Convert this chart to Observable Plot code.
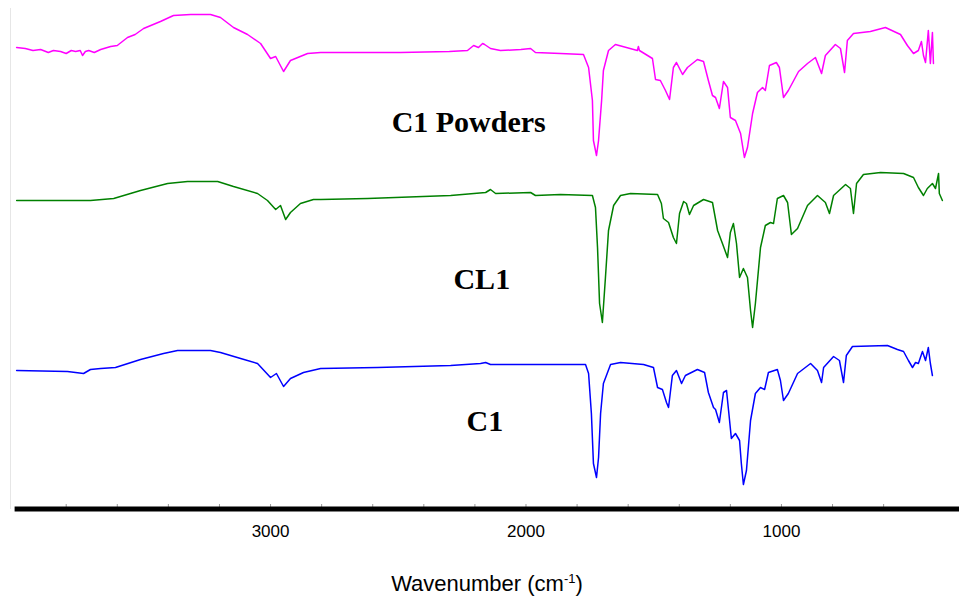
<!DOCTYPE html>
<html><head><meta charset="utf-8">
<script src="https://cdn.jsdelivr.net/npm/d3@7"></script>
<script src="https://cdn.jsdelivr.net/npm/@observablehq/plot@0.6"></script>
<style>
body{margin:0;background:#fff;}
#wrap{position:relative;width:959px;height:607px;overflow:hidden;}
#xlabel{position:absolute;left:0;top:573px;width:974px;text-align:center;font-family:"Liberation Sans",Arial,sans-serif;font-size:22px;line-height:22px;color:#000;}
#xlabel sup{font-size:13px;vertical-align:8px;line-height:0;}
</style></head><body>
<div id="wrap"><div id="chart"></div><div id="xlabel">Wavenumber (cm<sup>-1</sup>)</div></div>
<script>
// [wavenumber (cm-1), transmittance (a.u., offset)]
const c1Powders = [[3994,461],[3960,460],[3930,458],[3900,459],[3870,456],[3850,458],[3822,457],[3800,455],[3780,458],[3763,457],[3745,458],[3736,453],[3725,457],[3712,458],[3690,456],[3665,459],[3626,462],[3600,463],[3560,471],[3530,474],[3497,480],[3431,487],[3380,493],[3313,494],[3235,494],[3196,491],[3145,481],[3090,474],[3039,465],[3000,450],[2980,452],[2949,437],[2922,448],[2855,455],[2804,456],[2491,456],[2300,457],[2229,458],[2205,463],[2186,461],[2170,465],[2162,464],[2139,460],[2100,458],[2020,459],[1982,460],[1963,456],[1865,455],[1775,454],[1755,441],[1740,408],[1736,368],[1724,353],[1716,368],[1704,408],[1697,438],[1677,458],[1650,464],[1564,458],[1560,462],[1556,458],[1505,450],[1493,429],[1474,428],[1454,418],[1438,409],[1423,441],[1411,446],[1387,434],[1368,441],[1329,449],[1305,447],[1286,428],[1270,413],[1258,411],[1243,400],[1227,427],[1211,421],[1200,391],[1180,388],[1160,375],[1145,351],[1133,361],[1113,395],[1094,416],[1074,421],[1063,418],[1047,443],[1020,446],[1008,441],[992,411],[973,418],[933,437],[898,445],[867,451],[843,435],[828,453],[789,464],[769,460],[753,436],[742,468],[718,475],[652,477],[593,481],[534,474],[507,463],[483,455],[464,458],[452,467],[444,453],[436,446],[425,478],[417,445],[409,476],[405,445]];
const cl1 = [[3994,308],[3822,308],[3705,308],[3614,310],[3509,318],[3403,325],[3325,327],[3207,327],[3145,322],[3051,315],[3012,308],[2980,299],[2961,303],[2941,289],[2922,296],[2883,305],[2832,309],[2804,309],[2620,310],[2295,313],[2158,316],[2139,319],[2119,315],[1982,316],[1963,313],[1865,314],[1740,313],[1728,301],[1720,261],[1712,205],[1701,186],[1689,231],[1677,278],[1657,303],[1630,313],[1591,315],[1485,314],[1470,305],[1462,290],[1442,286],[1423,271],[1411,265],[1399,295],[1383,307],[1372,305],[1360,294],[1344,303],[1305,309],[1270,306],[1250,278],[1231,265],[1211,251],[1200,276],[1188,285],[1176,265],[1164,231],[1149,240],[1133,231],[1121,198],[1113,181],[1102,205],[1082,261],[1063,283],[1043,286],[1031,285],[1016,310],[992,313],[976,306],[961,274],[937,280],[898,303],[859,313],[828,306],[812,295],[796,313],[749,324],[730,320],[718,295],[706,325],[679,334],[612,336],[522,335],[483,331],[464,321],[444,313],[429,320],[409,325],[397,320],[385,335],[382,315],[370,308]];
const c1 = [[3994,138],[3795,137],[3732,135],[3705,139],[3665,140],[3607,141],[3509,149],[3419,155],[3364,158],[3235,158],[3196,156],[3117,150],[3051,145],[3000,131],[2977,135],[2949,122],[2922,130],[2871,136],[2804,140],[2581,141],[2295,143],[2178,145],[2158,146],[2139,144],[2021,144],[1767,144],[1755,135],[1744,95],[1736,45],[1724,31],[1716,51],[1708,95],[1697,125],[1669,144],[1630,146],[1540,144],[1501,141],[1485,121],[1466,119],[1450,106],[1442,101],[1427,133],[1411,138],[1391,125],[1376,133],[1329,139],[1301,136],[1286,116],[1266,101],[1258,99],[1243,86],[1227,116],[1215,118],[1207,98],[1196,70],[1180,75],[1164,68],[1157,45],[1149,24],[1137,38],[1121,88],[1102,115],[1082,121],[1066,119],[1051,136],[1016,139],[1004,128],[992,108],[973,115],[937,135],[886,145],[859,138],[843,126],[835,141],[796,152],[773,148],[757,126],[746,153],[722,162],[585,163],[546,159],[522,157],[503,148],[487,141],[475,146],[464,145],[448,157],[436,148],[425,161],[417,145],[409,133]];

const seriesNames = ["C1 Powders", "CL1", "C1"];
const seriesColors = ["#ff00ff", "#008000", "#0000ff"];
const labelWavenumber = [2526, 2284, 2233];
const labelValue = [377, 220, 78];
const majorTicks = [3000, 2000, 1000];
const minorTicks = [3800, 3600, 3400, 3200, 3000, 2800, 2600, 2400, 2200, 2000, 1800, 1600, 1400, 1200, 1000, 800, 600];
const axisStart = 4000;

const rows = [];
[c1Powders, cl1, c1].forEach((arr, i) => arr.forEach(([w, v]) => rows.push({series: seriesNames[i], w, v})));
const labels = seriesNames.map((name, i) => ({name, w: labelWavenumber[i], v: labelValue[i]}));

const chart = Plot.plot({
  width: 959, height: 548,
  marginLeft: 10, marginRight: 0, marginTop: 8, marginBottom: 40,
  x: {domain: [4018, 303]},
  y: {domain: [0, 500], axis: null},
  color: {domain: seriesNames, range: seriesColors},
  style: {background: "white", overflow: "visible", fontFamily: "'Liberation Sans', Arial, sans-serif"},
  marks: [
    Plot.frame({anchor: "left", stroke: "#e6e6e6"}),
    Plot.axisX({ticks: minorTicks, tickSize: -4, tickFormat: () => "", stroke: "#9a9a9a", anchor: "bottom", label: null}),
    Plot.ruleY([0], {x1: axisStart, x2: 303, stroke: "black", strokeWidth: 5, dy: 0.5}),
    Plot.axisX({ticks: majorTicks, tickSize: 0, tickPadding: 16, fontSize: 17, tickFormat: d => String(d), anchor: "bottom", label: null, fill: "black"}),
    Plot.line(rows, {x: "w", y: "v", z: "series", stroke: "series", strokeWidth: 1.5}),
    Plot.text(labels, {x: "w", y: "v", text: "name", textAnchor: "start", lineAnchor: "bottom", fontFamily: "'Liberation Serif', 'Times New Roman', serif", fontWeight: "bold", fontSize: 30, fill: "black"})
  ]
});
document.getElementById("chart").append(chart);
</script>
</body></html>
